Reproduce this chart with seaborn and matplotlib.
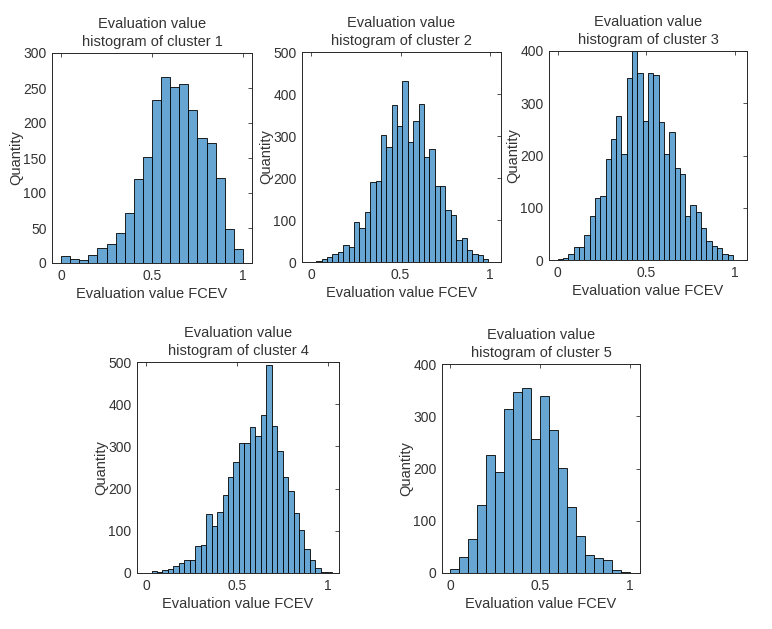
import numpy as np
import pandas as pd
import seaborn as sns
import matplotlib.pyplot as plt

#bin counts
counts_1 = [10, 6, 4, 11, 21, 27, 43, 71, 120, 152, 233, 265, 251, 255, 218,
            179, 172, 122, 49, 20]
counts_2 = [3, 7, 12, 20, 23, 40, 35, 95, 80, 118, 190, 192, 302, 274, 373,
            325, 430, 285, 335, 377, 250, 268, 182, 182, 125, 112, 52, 58,
            28, 20, 16, 7]
counts_3 = [2, 3, 12, 25, 25, 48, 85, 118, 122, 194, 232, 276, 202, 348, 400,
            357, 266, 357, 355, 264, 202, 245, 177, 165, 85, 105, 92, 61, 37,
            26, 23, 12, 10]
counts_4 = [5, 3, 7, 10, 17, 24, 31, 31, 64, 66, 140, 111, 144, 184, 228, 262,
            309, 309, 345, 324, 375, 494, 349, 290, 227, 194, 142, 102, 57,
            30, 11, 2, 2]
counts_5 = [8, 31, 65, 130, 226, 193, 313, 347, 354, 256, 338, 273, 201, 127,
            71, 35, 29, 25, 6, 2]

#first bin edge and bin width per cluster
bin_start = [0.0, 0.03, 0.0, 0.03, 0.0]
bin_width = [0.05, 0.03, 0.03, 0.03, 0.05]
y_max = [300, 500, 400, 500, 400]
y_step = [50, 100, 100, 100, 100]
x_lims = [(-0.05, 1.05), (-0.05, 1.06), (-0.05, 1.07), (-0.05, 1.06), (-0.046, 1.056)]

all_counts = [counts_1, counts_2, counts_3, counts_4, counts_5]

sns.set_theme(style='white')
plt.rcParams['font.family'] = ['Liberation Sans', 'DejaVu Sans']
text_col = '#333333'

fig = plt.figure(figsize=(7.72, 6.29), dpi=100)
W, H = 772, 629
#axes boxes in pixels: left, right, top, bottom
boxes = [(52, 252, 53, 263), (302, 501, 52, 262), (549, 747, 51, 260),
         (137, 339, 362, 573), (442, 640, 364, 573)]

for i, counts in enumerate(all_counts):
    l, r, t, b = boxes[i]
    ax = fig.add_axes([l / W, 1 - b / H, (r - l) / W, (b - t) / H])
    n = len(counts)
    edges = bin_start[i] + bin_width[i] * np.arange(n + 1)
    df = pd.DataFrame({'value': (edges[:-1] + edges[1:]) / 2, 'count': counts})
    sns.histplot(data=df, x='value', weights='count', bins=edges.tolist(), ax=ax,
                 color='#67a5d3', edgecolor='black', linewidth=0.6, alpha=1)
    ax.set_xlim(*x_lims[i])
    ax.set_ylim(0, y_max[i])
    ax.set_xticks([0, 0.5, 1])
    ax.set_xticklabels(['0', '0.5', '1'])
    ax.set_yticks(np.arange(0, y_max[i] + 1, y_step[i]))
    ax.tick_params(direction='in', top=True, right=True, length=3, width=0.6,
                   colors=text_col, labelsize=10, pad=4)
    for sp in ax.spines.values():
        sp.set_color('#262626')
        sp.set_linewidth(0.7)
    ax.set_title('Evaluation value\nhistogram of cluster %d' % (i + 1),
                 fontsize=10.5, color=text_col, pad=5, linespacing=1.35)
    ax.set_xlabel('Evaluation value FCEV', fontsize=10.5, color=text_col, labelpad=3)
    ax.set_ylabel('Quantity', fontsize=10.5, color=text_col, labelpad=0)

plt.savefig('out.png', dpi=100)
